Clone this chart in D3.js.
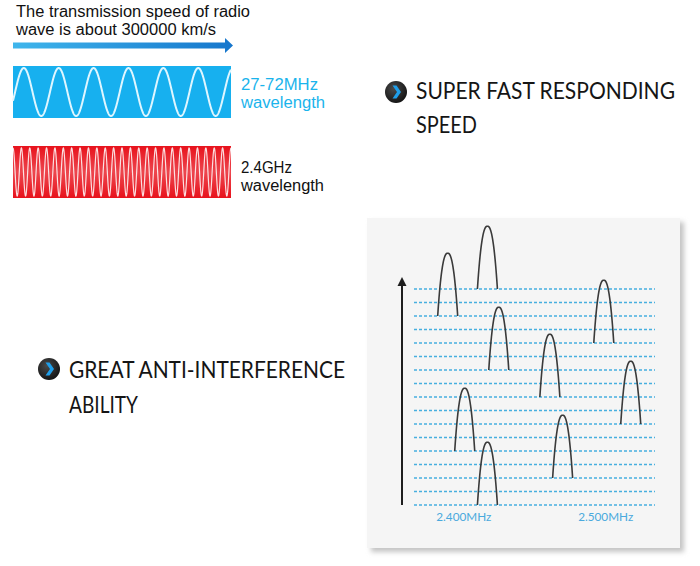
<!DOCTYPE html>
<html><head><meta charset="utf-8">
<script src="https://cdn.jsdelivr.net/npm/d3@7"></script>
<style>html,body{margin:0;padding:0;background:#fff;}svg{display:block;}</style>
</head><body>
<svg id="c" width="700" height="566"></svg>
<script>
// ---- data ----
const topLines = ["The transmission speed of radio", "wave is about 300000 km/s"];
const waveNames = ["27-72MHz", "2.4GHz"];
const waveSub = ["wavelength", "wavelength"];
const waveCycles = [6.25, 26];
const featureLine1 = ["SUPER FAST RESPONDING", "GREAT ANTI-INTERFERENCE"];
const featureLine2 = ["SPEED", "ABILITY"];
const channelLevels = [0,1,2,3,4,5,6,7,8,9,10,11,12,13,14,15,16];
const hopFreq   = [2.389, 2.417, 2.425, 2.461, 2.499, 2.518, 2.401, 2.470, 2.417];
const hopLevel  = [14, 16, 10, 8, 12, 6, 4, 2, 0];
const hopHeight = [4.65, 4.65, 4.65, 4.65, 4.65, 4.65, 4.65, 4.65, 4.65];
const hopBandwidth = 0.0141;
const freqTicks = [2.4, 2.5];
const freqTickLabels = ["2.400MHz", "2.500MHz"];

const svg = d3.select("#c");
const defs = svg.append("defs");
const FONT = "Lato, 'Open Sans', sans-serif";
const SMALLFONT = "'Liberation Sans', Arial, sans-serif";

// gradients / filters
const ag = defs.append("linearGradient").attr("id","arrowGrad").attr("x1","0").attr("x2","1");
ag.append("stop").attr("offset","0").attr("stop-color","#3fb6ec");
ag.append("stop").attr("offset","1").attr("stop-color","#1676cc");
const bg = defs.append("radialGradient").attr("id","bulletGrad").attr("cx","0.4").attr("cy","0.35").attr("r","0.7");
bg.append("stop").attr("offset","0").attr("stop-color","#4a4a4a");
bg.append("stop").attr("offset","1").attr("stop-color","#111");
const rg = defs.append("linearGradient").attr("id","redGlow").attr("x1","0").attr("x2","0").attr("y1","0").attr("y2","1");
rg.append("stop").attr("offset","0").attr("stop-color","#fff").attr("stop-opacity",0);
rg.append("stop").attr("offset","0.5").attr("stop-color","#fff").attr("stop-opacity",0.22);
rg.append("stop").attr("offset","1").attr("stop-color","#fff").attr("stop-opacity",0);
const sh = defs.append("filter").attr("id","shadow").attr("x","-10%").attr("y","-10%").attr("width","120%").attr("height","120%");
sh.append("feGaussianBlur").attr("stdDeviation",2.5);

// two-line text block helper
function block(x0, ys, lines, size, fill, lens, family){
  const g = svg.append("g").attr("font-family",family||FONT).attr("font-size",size).attr("fill",fill);
  lines.forEach((s,i)=>{
    g.append("text").attr("x",x0).attr("y",ys[i])
      .attr("textLength",lens[i]).attr("lengthAdjust","spacingAndGlyphs").text(s);
  });
  return g;
}

// ---- top text + arrow ----
block(16, [17, 35], topLines, 16, "#111", [234, 200], SMALLFONT);
svg.append("path").attr("d","M13,42.5 L225,42.5 L225,38 L233,45.5 L225,53 L225,48.5 L13,48.5 Z")
  .attr("fill","url(#arrowGrad)");

// ---- wave panels ----
const panels = [
  {y0:66, y1:118, fill:"#17b0ef", stroke:"#dff6ff", sw:2, phase:-0.31, tcol:"#1ab4ec", ty:[89.5,107.5], tl:[77,84]},
  {y0:146, y1:198, fill:"#e8121c", stroke:"#ffffff", sw:1.2, phase:0, tcol:"#111", ty:[172.5,190.5], tl:[51,83]}
];
const wx = d3.scaleLinear().domain([0,1]).range([13,231]);
panels.forEach((p,i)=>{
  svg.append("rect").attr("x",13).attr("y",p.y0).attr("width",218).attr("height",p.y1-p.y0).attr("fill",p.fill);
  const wy = d3.scaleLinear().domain([-1,1]).range([p.y1-2,p.y0+2]);
  const n = 1200;
  const pts = d3.range(n+1).map(k=>{
    const u = k/n;
    return [wx(u), wy(Math.cos(2*Math.PI*(u*waveCycles[i] + p.phase)))];
  });
  svg.append("path").attr("d",d3.line()(pts)).attr("fill","none")
    .attr("stroke",p.stroke).attr("stroke-width",p.sw).attr("opacity",i?0.85:1);
  if(i===1){
    svg.append("rect").attr("x",13).attr("y",p.y0).attr("width",218).attr("height",p.y1-p.y0).attr("fill","url(#redGlow)");
  }
  block(241, p.ty, [waveNames[i], waveSub[i]], 16, p.tcol, p.tl, SMALLFONT);
});

// ---- feature bullets ----
const feats = [
  {cx:396, cy:92, tx:416, y1:99, y2:133, l1:259, l2:61},
  {cx:49, cy:369, tx:69, y1:378, y2:413, l1:276, l2:69}
];
feats.forEach((f,i)=>{
  svg.append("circle").attr("cx",f.cx).attr("cy",f.cy).attr("r",11).attr("fill","url(#bulletGrad)");
  svg.append("path").attr("transform",`translate(${f.cx},${f.cy})`)
    .attr("d","M-3.5,-6.5 L0.5,-6.5 L5,0 L0.5,6.5 L-3.5,6.5 L1,0 Z").attr("fill","#1f9ee9");
  block(f.tx, [f.y1, f.y2], [featureLine1[i], featureLine2[i]], 22.5, "#151515", [f.l1, f.l2]);
});

// ---- frequency hopping chart ----
svg.append("rect").attr("x",371).attr("y",222).attr("width",313).attr("height",330)
  .attr("fill","#c4c4c4").attr("filter","url(#shadow)");
svg.append("rect").attr("x",367).attr("y",218).attr("width",313).attr("height",330).attr("fill","#f5f5f5");

const x = d3.scaleLinear().domain([2.3568, 2.5351]).range([402, 655]);
const y = d3.scaleLinear().domain([0, 16]).range([505, 289]);

svg.append("g").selectAll("line").data(channelLevels).join("line")
  .attr("x1", x.range()[0]+12).attr("x2", x.range()[1])
  .attr("y1", d=>y(d)).attr("y2", d=>y(d))
  .attr("stroke","#47afdf").attr("stroke-width",1.6).attr("stroke-dasharray","3,2");

// vertical axis arrow
svg.append("line").attr("x1",x.range()[0]).attr("x2",x.range()[0]).attr("y1",y(0)).attr("y2",285)
  .attr("stroke","#1e1e1e").attr("stroke-width",2);
svg.append("path").attr("d",`M${x.range()[0]},277 L${x.range()[0]+4.5},286 L${x.range()[0]-4.5},286 Z`).attr("fill","#1e1e1e");

// hops
const hops = hopFreq.map((f,i)=>({f, level:hopLevel[i], h:hopHeight[i]}));
const hopLine = d3.line().x(d=>x(d[0])).y(d=>y(d[1])).curve(d3.curveLinear);
svg.append("g").selectAll("path").data(hops).join("path")
  .attr("d", d=>hopLine(d3.range(-30,31).map(k=>{
    const t = k/30;
    return [d.f + t*hopBandwidth/2, d.level + d.h*(1 - Math.pow(Math.abs(t),2.4))];
  })))
  .attr("fill","none").attr("stroke","#3a3a3a").attr("stroke-width",1.6);

// x tick labels
const xAxis = d3.axisBottom(x).tickValues(freqTicks).tickSize(0).tickPadding(8)
  .tickFormat((d,i)=>freqTickLabels[i]);
const ax = svg.append("g").attr("transform",`translate(0,${y(0)})`).call(xAxis);
ax.select(".domain").remove();
ax.selectAll("text").attr("font-family",FONT).attr("font-size",11.5).attr("fill","#4aa9dd")
  .attr("textLength",55).attr("lengthAdjust","spacingAndGlyphs");
</script>
</body></html>
